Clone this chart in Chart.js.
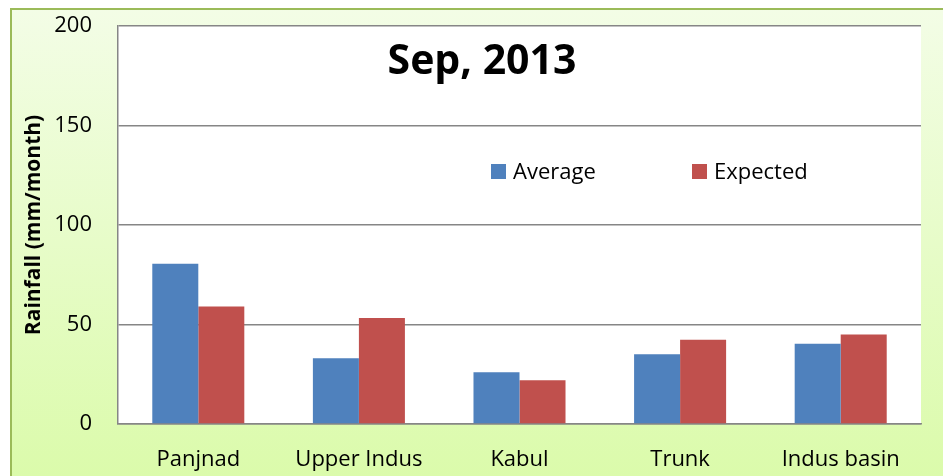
<!DOCTYPE html>
<html>
<head>
<meta charset="utf-8">
<script src="https://cdn.jsdelivr.net/npm/chart.js@4"></script>
<style>
  html, body { margin: 0; padding: 0; background: #fff; }
  #wrap { width: 943px; height: 476px; position: relative; }
</style>
</head>
<body>
<div id="wrap"><canvas id="rainChart"></canvas></div>
<script>
const CATEGORIES = ['Panjnad', 'Upper Indus', 'Kabul', 'Trunk', 'Indus basin'];
const AVERAGE = [80.5, 33, 26, 35, 40.3];
const EXPECTED = [59, 53.3, 22, 42.3, 45];
const Y_TICKS = [0, 50, 100, 150, 200];
const CHART_TITLE = 'Sep, 2013';
const Y_TITLE = 'Rainfall (mm/month)';

const FONT = "'Open Sans', 'Noto Sans', sans-serif";

// light green panel behind everything, white plot area
const panelBg = {
  id: 'panelBg',
  beforeDraw(chart) {
    const { ctx, width, height, chartArea } = chart;
    ctx.save();
    const g = ctx.createLinearGradient(0, 9, 0, height);
    g.addColorStop(0, '#f3fde6');
    g.addColorStop(1, '#dbfbab');
    ctx.fillStyle = g;
    ctx.fillRect(11, 9, width - 11, height - 9);
    ctx.strokeStyle = '#9bbb59';
    ctx.lineWidth = 2;
    ctx.beginPath();
    ctx.moveTo(11, height);
    ctx.lineTo(11, 9);
    ctx.lineTo(width, 9);
    ctx.stroke();
    ctx.fillStyle = '#ffffff';
    ctx.fillRect(chartArea.left, chartArea.top, chartArea.right - chartArea.left, chartArea.bottom - chartArea.top);
    ctx.restore();
  }
};

// title and legend sit inside the plot, like the Excel original
const overlay = {
  id: 'overlay',
  afterDraw(chart) {
    const { ctx } = chart;
    ctx.save();
    ctx.fillStyle = '#000';
    ctx.font = "bold 41px " + FONT;
    ctx.textAlign = 'center';
    ctx.textBaseline = 'middle';
    ctx.fillText(CHART_TITLE, 482, 62);

    ctx.font = "22px " + FONT;
    ctx.textAlign = 'left';
    const xs = [491, 692];
    chart.data.datasets.forEach((ds, i) => {
      ctx.fillStyle = ds.backgroundColor;
      ctx.fillRect(xs[i], 164, 15, 15);
      ctx.fillStyle = '#000';
      ctx.fillText(ds.label, xs[i] + 22, 173);
    });
    ctx.restore();
  }
};

new Chart(document.getElementById('rainChart'), {
  type: 'bar',
  data: {
    labels: CATEGORIES,
    datasets: [
      { label: 'Average', data: AVERAGE, backgroundColor: '#4f81bd' },
      { label: 'Expected', data: EXPECTED, backgroundColor: '#c0504d' }
    ]
  },
  options: {
    responsive: true,
    maintainAspectRatio: false,
    animation: false,
    categoryPercentage: 0.573,
    barPercentage: 1,
    layout: { padding: { top: 26, right: 22, left: 0, bottom: 0 } },
    plugins: {
      legend: { display: false },
      tooltip: { enabled: false }
    },
    scales: {
      x: {
        grid: { display: false, drawTicks: false },
        border: { display: true, color: '#868686', width: 1.5 },
        ticks: { color: '#000', font: { family: FONT, size: 22 }, padding: 23, maxRotation: 0, autoSkip: false },
        afterFit(s) { s.height = 52; }
      },
      y: {
        min: 0,
        max: 200,
        afterBuildTicks(s) { s.ticks = Y_TICKS.map(v => ({ value: v })); },
        grid: { color: '#868686', lineWidth: 1.5, drawTicks: false },
        border: { display: true, color: '#868686', width: 1.5 },
        ticks: { color: '#000', font: { family: FONT, size: 22 }, padding: 26 },
        title: {
          display: true,
          text: Y_TITLE,
          color: '#000',
          font: { family: FONT, size: 21, weight: 'bold' },
          padding: { top: 21, bottom: 0 }
        },
        afterFit(s) {
          s.width = 118;
          s.paddingTop = 0;
          s.paddingBottom = 0;
        }
      }
    }
  },
  plugins: [panelBg, overlay]
});
</script>
</body>
</html>
